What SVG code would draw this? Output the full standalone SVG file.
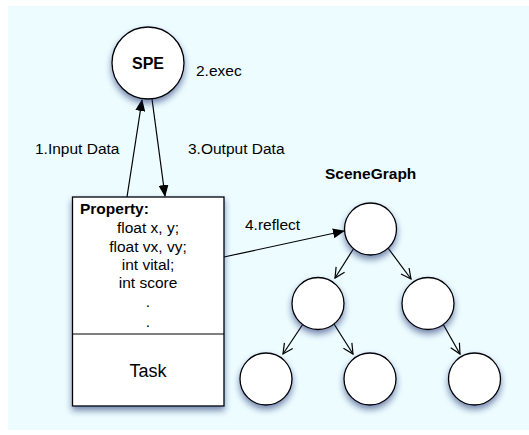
<svg xmlns="http://www.w3.org/2000/svg" width="529" height="435" viewBox="0 0 529 435">
<style>
text{font-family:"Liberation Sans",Arial,sans-serif;fill:#000}
.lbl{font-size:15.5px}
.b{font-weight:bold}
.nd{fill:#fff;stroke:#000;stroke-width:1.3}
.c{stroke:#000;stroke-width:1.2;fill:none}
</style>
<defs>
<filter id="sh" x="-40%" y="-40%" width="180%" height="190%">
<feGaussianBlur in="SourceAlpha" stdDeviation="3"/>
<feOffset dx="0" dy="4" result="o"/>
<feFlood flood-color="#1a2a6a" flood-opacity="0.55"/>
<feComposite in2="o" operator="in"/>
<feMerge><feMergeNode/><feMergeNode in="SourceGraphic"/></feMerge>
</filter>
<marker id="fa" viewBox="0 0 12 10" refX="11" refY="5" markerWidth="12" markerHeight="10" markerUnits="userSpaceOnUse" orient="auto">
<path d="M0,0 L12,5 L0,10 Z" fill="#000"/>
</marker>
<marker id="oa" viewBox="0 0 12 12" refX="11" refY="6" markerWidth="12" markerHeight="12" markerUnits="userSpaceOnUse" orient="auto">
<path d="M1,1 L11,6 L1,11" fill="none" stroke="#000" stroke-width="1.2"/>
</marker>
</defs>
<rect x="8" y="6" width="521" height="424" fill="#ecfcff"/>

<g id="connectors">
<line class="c" x1="127" y1="197" x2="142" y2="100" marker-end="url(#fa)"/>
<line class="c" x1="152" y1="99" x2="165" y2="196" marker-end="url(#fa)"/>
<line class="c" x1="224" y1="257" x2="344" y2="231" marker-end="url(#fa)"/>
<line class="c" x1="354" y1="248" x2="335" y2="278" marker-end="url(#oa)"/>
<line class="c" x1="388" y1="248" x2="411" y2="279" marker-end="url(#oa)"/>
<line class="c" x1="303" y1="324" x2="283" y2="354" marker-end="url(#oa)"/>
<line class="c" x1="334" y1="324" x2="353" y2="354" marker-end="url(#oa)"/>
<line class="c" x1="443" y1="324" x2="460" y2="354" marker-end="url(#oa)"/>
</g>

<g id="spe">
<circle class="nd" cx="148" cy="63" r="36" filter="url(#sh)"/>
<text x="148" y="69" text-anchor="middle" class="b" font-size="16">SPE</text>
</g>

<g id="task">
<rect class="nd" x="72.5" y="197" width="151.5" height="209" filter="url(#sh)"/>
<line class="c" x1="72.5" y1="334" x2="224" y2="334"/>
<text x="80" y="214" class="lbl b">Property:</text>
<text x="148" y="233" class="lbl" text-anchor="middle">float x, y;</text>
<text x="148" y="252" class="lbl" text-anchor="middle">float vx, vy;</text>
<text x="148" y="270" class="lbl" text-anchor="middle">int vital;</text>
<text x="148" y="288" class="lbl" text-anchor="middle">int score</text>
<text x="148" y="307" class="lbl" text-anchor="middle">.</text>
<text x="148" y="327" class="lbl" text-anchor="middle">.</text>
<text x="148" y="377" font-size="18" text-anchor="middle">Task</text>
</g>

<g id="labels">
<text x="35" y="154" class="lbl">1.Input Data</text>
<text x="196" y="76" class="lbl">2.exec</text>
<text x="188" y="154" class="lbl">3.Output Data</text>
<text x="245" y="230" class="lbl">4.reflect</text>
<text x="325" y="179" class="lbl b">SceneGraph</text>
</g>

<g id="root"><circle class="nd" cx="370.5" cy="229" r="26" filter="url(#sh)"/></g>
<g id="n1"><circle class="nd" cx="318" cy="303.5" r="26" filter="url(#sh)"/></g>
<g id="n2"><circle class="nd" cx="428" cy="303.5" r="26" filter="url(#sh)"/></g>
<g id="n3"><circle class="nd" cx="266" cy="379" r="26" filter="url(#sh)"/></g>
<g id="n4"><circle class="nd" cx="370" cy="379" r="26" filter="url(#sh)"/></g>
<g id="n5"><circle class="nd" cx="474.5" cy="379" r="26" filter="url(#sh)"/></g>
</svg>
